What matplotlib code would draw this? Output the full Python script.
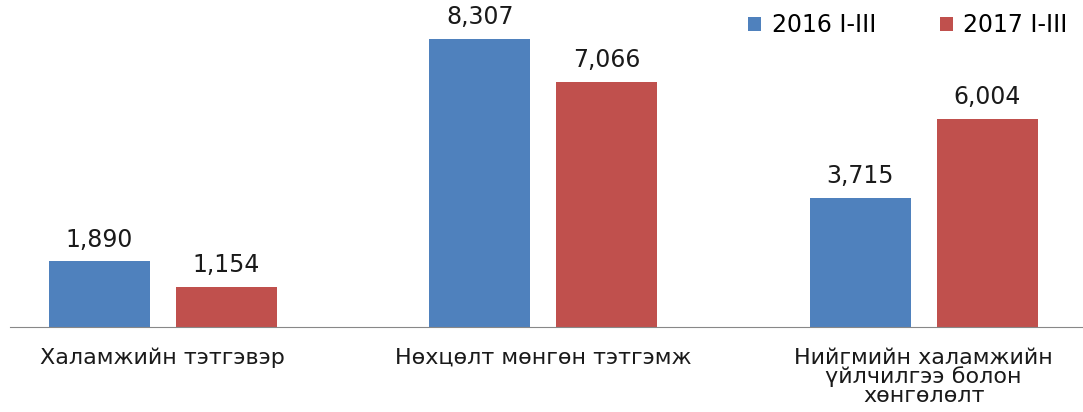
import matplotlib
matplotlib.use('Agg')
import matplotlib.pyplot as plt
import numpy as np

categories = ['Халамжийн тэтгэвэр', 'Нөхцөлт мөнгөн тэтгэмж',
              'Нийгмийн халамжийн\nүйлчилгээ болон\nхөнгөлөлт']
series_names = ['2016 I-III', '2017 I-III']
values_2016 = [1890, 8307, 3715]
values_2017 = [1154, 7066, 6004]
colors = ['#4F81BD', '#C0504D']

plt.rcParams['font.family'] = ['DejaVu Sans']

fig = plt.figure(figsize=(10.83, 4.12), dpi=100)
ax = fig.add_axes([10 / 1083, 1 - 327 / 412, 1 - 10 / 1083, 327 / 412])

x = np.arange(len(categories))
width = 0.266
offset = 0.167

for i, (vals, name) in enumerate(zip([values_2016, values_2017], series_names)):
    pos = x + (offset if i else -offset)
    bars = ax.bar(pos, vals, width, color=colors[i], label=name)
    for b, v in zip(bars, vals):
        ax.annotate(f'{v:,}', (b.get_x() + b.get_width() / 2, v),
                    xytext=(0, 7), textcoords='offset points',
                    ha='center', va='bottom', fontsize=17, color='#1a1a1a')

ax.set_xlim(-0.402, 2.419)
ax.set_ylim(0, 9432)
ax.set_yticks([])
ax.set_xticks(x)
ax.set_xticklabels(categories, fontsize=16, multialignment='center',
                   linespacing=0.92, color='#1a1a1a')
ax.tick_params(axis='x', length=0, pad=15)
for s in ['top', 'right', 'left']:
    ax.spines[s].set_visible(False)
ax.spines['bottom'].set_color('#888888')

# legend sits at the top right, no frame
ax.legend(loc='upper right', bbox_to_anchor=(0.998, 1.0), ncol=2, frameon=False,
          fontsize=17, handlelength=0.55, handleheight=0.55, columnspacing=2.7,
          handletextpad=0.45, borderaxespad=0.15)

fig.savefig('out.png', dpi=100)
